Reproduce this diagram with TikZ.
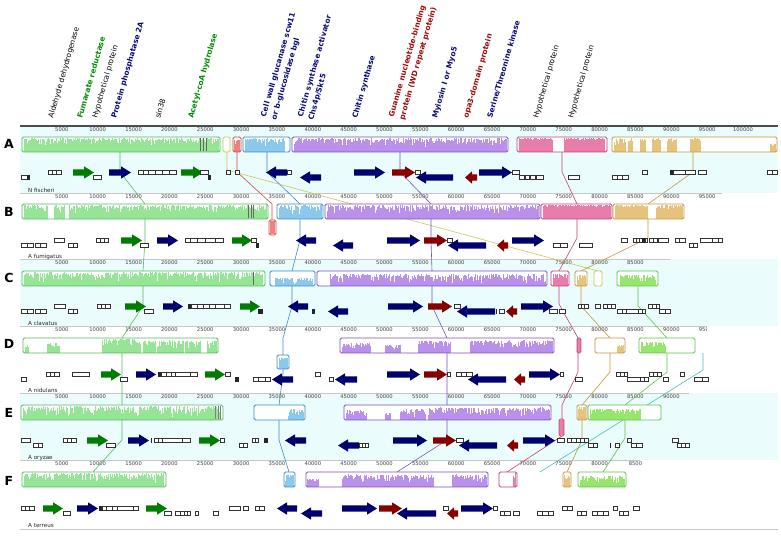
\documentclass[tikz,border=0pt]{standalone}
\usepackage{fontspec}
\setmainfont{DejaVu Sans}
\definecolor{hg}{RGB}{150,228,150}
\definecolor{bg}{RGB}{85,185,95}
\definecolor{hb}{RGB}{140,200,235}
\definecolor{bb}{RGB}{60,140,200}
\definecolor{hp}{RGB}{185,145,235}
\definecolor{bp}{RGB}{125,80,195}
\definecolor{hk}{RGB}{230,125,170}
\definecolor{bk}{RGB}{200,65,115}
\definecolor{ht}{RGB}{230,195,125}
\definecolor{bt}{RGB}{200,150,65}
\definecolor{hr}{RGB}{235,130,130}
\definecolor{br}{RGB}{205,75,75}
\definecolor{bo}{RGB}{200,200,90}
\definecolor{hl}{RGB}{150,230,110}
\definecolor{bl}{RGB}{95,195,75}
\definecolor{tl}{RGB}{70,190,185}
\definecolor{bgcyan}{RGB}{234,252,252}
\definecolor{gA}{RGB}{0,125,0}
\definecolor{nv}{RGB}{0,0,110}
\definecolor{dr}{RGB}{135,0,0}
\definecolor{lgreen}{RGB}{0,140,0}
\definecolor{lnavy}{RGB}{10,10,120}
\definecolor{lred}{RGB}{160,10,10}
\newcommand\hist[6]{%
  \foreach \xx in {#1,...,#2}{%
    \pgfmathsetmacro\hh{(#6-(#6-#5)*rnd*rnd)*13.5}%
    \fill[#4] (\xx,#3+14.6) rectangle (\xx+1.15,#3+14.6-\hh);
  }}
\newcommand\boxw[4]{\fill[white,rounded corners=1.5pt] (#1,#2) rectangle (#3,#4);}
\newcommand\boxf[5]{\draw[#5,line width=0.9pt,rounded corners=1.5pt] (#1,#2) rectangle (#3,#4);}
\newcommand\arR[5]{\fill[#4] (#1,#3-3.2) -- (#2-#5,#3-3.2) -- (#2-#5,#3-6.2) -- (#2,#3) -- (#2-#5,#3+6.2) -- (#2-#5,#3+3.2) -- (#1,#3+3.2) -- cycle;}
\newcommand\arL[5]{\fill[#4] (#2,#3-3.2) -- (#1+#5,#3-3.2) -- (#1+#5,#3-6.2) -- (#1,#3) -- (#1+#5,#3+6.2) -- (#1+#5,#3+3.2) -- (#2,#3+3.2) -- cycle;}
\newcommand\gup[2]{\filldraw[gbx] (#1,\cy-2) rectangle (#2,\cy+2);}
\newcommand\glo[2]{\filldraw[gbx] (#1,\cy+3) rectangle (#2,\cy+7);}
\newcommand\kup[2]{\fill[black!85] (#1,\cy-2.5) rectangle (#2,\cy+2.5);}
\newcommand\klo[2]{\fill[black!85] (#1,\cy+2.5) rectangle (#2,\cy+7.5);}
\newcommand\gaRu[3]{\arR{#1}{#2}{\cy+0.5}{#3}{10}}
\newcommand\gaLu[3]{\arL{#1}{#2}{\cy+0.5}{#3}{10}}
\newcommand\gaLl[3]{\arL{#1}{#2}{\cy+5.5}{#3}{10}}
\begin{document}
\begin{tikzpicture}[x=1pt,y=-1pt,
  gbx/.style={fill=white,draw=black!80,line width=0.45pt},
  hdr/.style={anchor=base west,rotate=74,font=\fontsize{7.4}{8}\selectfont,inner sep=0pt},
  hdrb/.style={anchor=base west,rotate=74,font=\fontsize{7.4}{8}\selectfont\bfseries,inner sep=0pt},
  rl/.style={font=\fontsize{5.2}{6}\selectfont,text=black!75,inner sep=0pt,anchor=north},
  gn/.style={font=\fontsize{5.6}{6}\selectfont,text=black!85,anchor=base west,inner sep=0pt},
  rowl/.style={font=\fontsize{12.5}{13}\selectfont\bfseries,inner sep=0pt},
  lk/.style={line width=0.6pt},
  rul/.style={draw=black!22,line width=0.8pt}]
\pgfmathsetseed{7}
\useasboundingbox (0,0) rectangle (781,535);
\fill[white] (0,0) rectangle (781,535);
% backgrounds
\fill[bgcyan] (20,126) rectangle (778,193);
\fill[bgcyan] (20,259) rectangle (778,326);
\fill[bgcyan] (20,393) rectangle (778,460);
\draw[rul] (20,193)--(722,193);
\draw[rul] (20,259)--(670,259);
\draw[rul] (20,326)--(707,326);
\draw[rul] (20,393)--(689,393);
\draw[rul] (20,460)--(640,460);
\draw[rul] (20,529.5)--(778,529.5);
\draw[black!70,line width=1.4pt] (20,126)--(778,126);
% rulers
\foreach \k in {5,10,...,100} \node[rl] at ({26+7.17*\k},127.5) {\k000};
\foreach \k in {5,10,...,95} \node[rl] at ({26+7.17*\k},194.5) {\k000};
\foreach \k in {5,10,...,85} \node[rl] at ({26+7.17*\k},260.5) {\k000};
\foreach \k in {5,10,...,90} \node[rl] at ({26+7.17*\k},327.5) {\k000};
\begin{scope}\clip (600,320) rectangle (706,340); \node[rl] (dlast) at ({26+7.17*95},327.5) {95000};\end{scope}
\foreach \k in {5,10,...,90} \node[rl] at ({26+7.17*\k},394.5) {\k000};
\foreach \k in {5,10,...,80} \node[rl] at ({26+7.17*\k},461.5) {\k000};
\node[rl] (flast) at ({26+7.17*85},461.5) {8500};
% LCB connecting lines
\draw[lk,bg] (120,152)--(120,172)--(145,204)--(145,240)--(143,271)--(143,306)--(122,338)--(122,374)--(122,405)--(122,440)--(93,472);
\draw[lk,bb] (267,152)--(267,172)--(300,204)--(300,240)--(292,271)--(292,306)--(283,338)--(283,355);
\draw[lk,bb] (283,369)--(283,374)--(279,405)--(279,440)--(289,472);
\draw[lk,br] (237,152)--(237,172)--(272,204)--(272,220);
\draw[lk,bo] (227,152)--(227,170)--(598,271);
\draw[lk,bp] (400,152)--(400,172)--(431,204)--(431,240)--(432,271)--(432,306)--(447,338)--(447,374)--(447,405)--(447,440)--(397,472);
\draw[lk,bk] (562,152)--(562,172)--(577,204)--(577,238)--(559,271)--(559,304)--(578,338)--(578,372)--(562,405)--(562,419);
\draw[lk,bk] (562,436)--(507,472);
\draw[lk,bt] (693,152)--(693,172)--(648,204)--(648,238)--(581,271)--(581,306)--(610,338)--(610,372)--(582,405)--(582,440)--(567,472);
\draw[lk,bl] (638,286)--(638,306)--(667,338)--(667,372)--(625,405)--(625,438)--(603,472);
\draw[lk,tl] (703,353)--(703,370)--(540,472);
% ---- Row A blocks
\boxw{22}{137}{220}{152}\hist{24}{218}{137}{hg}{0.45}{1}
\foreach \q in {200,203,206} \draw[black!60,line width=0.5pt] (\q,138)--(\q,151);
\boxf{22}{137}{220}{152}{bg}
\boxw{223}{137}{230}{152}\boxf{223}{137}{230}{152}{bo}
\boxw{233}{137}{241}{152}\hist{234}{239}{137}{hr}{0.4}{0.9}\boxf{233}{137}{241}{152}{br}
\boxw{243}{137}{290}{152}\hist{245}{284}{137}{hb}{0.3}{1}\boxf{243}{137}{290}{152}{bb}
\boxw{292}{137}{508}{152}\hist{294}{506}{137}{hp}{0.35}{1}\boxf{292}{137}{508}{152}{bp}
\boxw{517}{137}{607}{152}\hist{519}{552}{137}{hk}{0.8}{1}\hist{564}{604}{137}{hk}{0.8}{1}\boxf{517}{137}{607}{152}{bk}
\boxw{612}{137}{777}{152}\hist{614}{625}{137}{ht}{0.5}{1}\hist{628}{632}{137}{ht}{0.5}{1}\hist{640}{645}{137}{ht}{0.6}{1}\hist{652}{660}{137}{ht}{0.7}{1}\hist{667}{676}{137}{ht}{0.6}{1}\hist{690}{700}{137}{ht}{0.7}{1}\hist{770}{775}{137}{ht}{0.3}{0.6}\boxf{612}{137}{777}{152}{bt}
% ---- Row B blocks
\boxw{22}{204}{268}{219}\hist{24}{47}{204}{hg}{0.4}{1}\hist{54}{64}{204}{hg}{0.4}{1}\hist{69}{266}{204}{hg}{0.4}{1}
\foreach \q in {248,251,253} \draw[black!60,line width=0.5pt] (\q,205)--(\q,218);
\boxf{22}{204}{268}{219}{bg}
\boxw{269}{220}{276}{235}\fill[hr] (270,221) rectangle (275,234);\boxf{269}{220}{276}{235}{br}
\boxw{277}{204}{323}{219}\hist{279}{321}{204}{hb}{0.3}{1}\boxf{277}{204}{323}{219}{bb}
\boxw{325}{204}{540}{219}\hist{327}{538}{204}{hp}{0.3}{1}\boxf{325}{204}{540}{219}{bp}
\boxw{541}{204}{612}{219}\hist{543}{610}{204}{hk}{0.85}{1}\boxf{541}{204}{612}{219}{bk}
\boxw{613}{204}{684}{219}\hist{615}{647}{204}{ht}{0.8}{1}\hist{656}{682}{204}{ht}{0.7}{1}\boxf{613}{204}{684}{219}{bt}
% ---- Row C blocks
\boxw{22}{271}{265}{286}\hist{24}{262}{271}{hg}{0.2}{1}
\draw[black!60,line width=0.5pt] (253,272)--(253,285);
\boxf{22}{271}{265}{286}{bg}
\boxw{270}{271}{315}{286}\hist{275}{312}{271}{hb}{0.05}{0.6}\boxf{270}{271}{315}{286}{bb}
\boxw{317}{271}{547}{286}\hist{330}{545}{271}{hp}{0.1}{0.85}\boxf{317}{271}{547}{286}{bp}
\boxw{551}{271}{569}{286}\hist{553}{567}{271}{hk}{0.3}{0.9}\boxf{551}{271}{569}{286}{bk}
\boxw{575}{271}{587}{286}\hist{577}{585}{271}{ht}{0.3}{0.8}\boxf{575}{271}{587}{286}{bt}
\boxw{594}{271}{602}{286}\boxf{594}{271}{602}{286}{bo}
\boxw{617}{271}{658}{286}\hist{620}{655}{271}{hl}{0.2}{0.8}\boxf{617}{271}{658}{286}{bl}
% ---- Row D blocks
\boxw{23}{338}{218}{353}\hist{25}{28}{338}{hg}{0.2}{0.6}\hist{47}{59}{338}{hg}{0.3}{0.7}\hist{102}{140}{338}{hg}{0.2}{1}\hist{143}{155}{338}{hg}{0.3}{0.9}\hist{157}{183}{338}{hg}{0.2}{0.9}\hist{185}{200}{338}{hg}{0.3}{0.9}\hist{207}{216}{338}{hg}{0.2}{0.9}\boxf{23}{338}{218}{353}{bg}
\boxw{277}{355}{289}{369}\hist{279}{287}{354.5}{hb}{0.3}{0.9}\boxf{277}{355}{289}{369}{bb}
\boxw{340}{338}{554}{353}\hist{342}{370}{338}{hp}{0.15}{0.7}\hist{385}{400}{338}{hp}{0.15}{0.6}\hist{418}{450}{338}{hp}{0.2}{0.9}\hist{470}{552}{338}{hp}{0.2}{0.9}\boxf{340}{338}{554}{353}{bp}
\fill[hk] (577,339) rectangle (581,352);\boxf{577}{338}{581}{353}{bk}
\boxw{595}{338}{625}{353}\hist{617}{623}{338}{ht}{0.3}{0.6}\boxf{595}{338}{625}{353}{bt}
\boxw{639}{338}{695}{353}\hist{641}{665}{338}{hl}{0.2}{0.8}\boxf{639}{338}{695}{353}{bl}
% ---- Row E blocks
\boxw{21}{405}{223}{420}\hist{23}{220}{405}{hg}{0.15}{1}
\foreach \q in {215,218,220} \draw[black!50,line width=0.5pt] (\q,406)--(\q,419);
\boxf{21}{405}{223}{420}{bg}
\boxw{254}{405}{305}{420}\hist{288}{303}{405}{hb}{0.2}{0.8}\boxf{254}{405}{305}{420}{bb}
\boxw{344}{405}{551}{420}\hist{346}{366}{405}{hp}{0.15}{0.7}\hist{385}{390}{405}{hp}{0.2}{0.5}\hist{400}{425}{405}{hp}{0.15}{0.8}\hist{428}{549}{405}{hp}{0.2}{0.9}\boxf{344}{405}{551}{420}{bp}
\fill[hk] (559,420) rectangle (564,435);\boxf{559}{419}{564}{436}{bk}
\boxw{577}{405}{587}{420}\hist{578}{585}{405}{ht}{0.5}{1}\boxf{577}{405}{587}{420}{bt}
\boxw{588}{405}{661}{420}\hist{590}{640}{405}{hl}{0.2}{0.8}\boxf{588}{405}{661}{420}{bl}
% ---- Row F blocks
\boxw{22}{472}{166}{487}\hist{24}{163}{472}{hg}{0.2}{1}\boxf{22}{472}{166}{487}{bg}
\boxw{284}{472}{295}{487}\hist{285}{293}{472}{hb}{0.3}{0.9}\boxf{284}{472}{295}{487}{bb}
\boxw{306}{472}{488}{487}\hist{307}{318}{472}{hp}{0.15}{0.6}\hist{342}{433}{472}{hp}{0.2}{0.9}\hist{452}{486}{472}{hp}{0.2}{0.9}\boxf{306}{472}{488}{487}{bp}
\boxw{499}{472}{517}{487}\hist{513}{515}{472}{hk}{0.4}{1}\boxf{499}{472}{517}{487}{bk}
\boxw{563}{472}{571}{487}\hist{564}{569}{472}{ht}{0.4}{0.9}\boxf{563}{472}{571}{487}{bt}
\boxw{578}{472}{626}{487}\hist{580}{624}{472}{hl}{0.2}{0.8}\boxf{578}{472}{626}{487}{bl}
% ---- Genes row A
\def\cy{172}
\glo{21}{27}\klo{27}{30}
\gup{48}{52}\gup{52}{56}\gup{56}{61}
\gaRu{73}{94}{gA}\glo{93}{101}
\gaRu{109}{131}{nv}
\gup{138}{143}\gup{143}{148}\gup{148}{155}\gup{155}{162}\gup{162}{169}\gup{169}{176}
\gaRu{181}{203}{gA}\gup{200}{208}\klo{208}{211}
\gup{226}{230}\gup{235}{239}
\gaLu{266}{287}{nv}\gup{287}{291}
\gaLl{300}{321}{nv}
\gaRu{354}{385}{nv}
\gaRu{392}{415}{dr}\gup{415}{420}
\gaLl{416}{453}{nv}
\arL{465}{477}{\cy+5.5}{dr}{7}
\gaRu{479}{512}{nv}\gup{512}{519}
\glo{519}{524}\glo{525}{529}\glo{530}{535}\glo{536}{543}
\glo{568}{579}
\glo{612}{617}\glo{617}{622}\glo{622}{628}
\gup{642}{647}
\kup{670}{673}\gup{673}{685}\gup{685}{695}\gup{698}{706}
\gup{767}{772}\gup{772}{777}
% ---- Genes row B
\def\cy{240}
\glo{21}{27}\glo{27}{33}\glo{35}{40}\glo{40}{46}
\gup{54}{64}
\glo{68}{73}\glo{73}{77}
\gup{96}{100}\gup{100}{104}\gup{104}{108}
\gaRu{121}{142}{gA}\glo{140}{148}
\gaRu{157}{178}{nv}
\gup{185}{190}\gup{190}{197}\gup{197}{205}\gup{205}{215}\gup{215}{223}
\gaRu{232}{252}{gA}\gup{251}{256}\klo{256}{259}
\gaLu{296}{316}{nv}
\gaLl{333}{353}{nv}
\gaRu{387}{420}{nv}
\gaRu{424}{447}{dr}\gup{447}{452}
\gaLl{448}{486}{nv}
\arL{497}{508}{\cy+5.5}{dr}{7}
\gaRu{512}{544}{nv}
\glo{553}{560}\glo{560}{567}\glo{579}{592}
\gup{621}{627}\gup{633}{636}\gup{636}{639}\gup{639}{642}\kup{642}{645}\gup{645}{647}\gup{649}{653}\gup{653}{657}\gup{658}{668}\gup{675}{679}\gup{679}{685}
\glo{689}{693}\glo{693}{697}
\gup{700}{712}\gup{712}{718}\gup{718}{722}
% ---- Genes row C
\def\cy{306}
\glo{21}{27}\glo{27}{33}\glo{35}{40}\glo{40}{46}
\gup{54}{65}
\glo{68}{73}\glo{73}{77}
\gup{97}{101}\gup{101}{105}\gup{105}{110}
\gaRu{125}{146}{gA}\glo{144}{153}
\gaRu{163}{183}{nv}
\kup{188}{191}\gup{191}{197}\gup{197}{203}\gup{203}{209}\gup{209}{215}\gup{215}{224}\gup{224}{230}
\gaRu{240}{260}{gA}\klo{258}{263}
\gaLu{288}{308}{nv}\klo{312}{315}
\gaLl{328}{348}{nv}
\gaRu{388}{423}{nv}
\gaRu{428}{452}{dr}\gup{454}{460}
\gaLl{457}{495}{nv}
\klo{496}{497}\glo{499}{504}
\arL{506}{517}{\cy+5.5}{dr}{7}
\gaRu{521}{553}{nv}
\glo{549}{557}\glo{559}{565}
\gup{578}{581}\gup{581}{584}\gup{584}{588}
\gup{595}{600}\gup{603}{607}\gup{607}{611}\gup{611}{615}
\glo{617}{622}\glo{622}{626}\glo{626}{638}\glo{638}{642}\glo{642}{645}
\gup{648}{652}\gup{652}{656}\gup{656}{659}
\glo{659}{665}\glo{665}{670}
% ---- Genes row D
\def\cy{374}
\glo{21}{26}
\gup{46}{50}\gup{50}{54}\gup{54}{59}
\gup{72}{89}
\gaRu{101}{121}{gA}\glo{120}{127}
\gaRu{136}{156}{nv}
\kup{158}{161}\gup{161}{166}\gup{166}{171}\gup{171}{175}\gup{175}{190}\gup{190}{197}
\gaRu{205}{225}{gA}\gup{225}{230}
\klo{235}{239}
\glo{253}{258}\glo{258}{265}\glo{265}{270}
\gaLl{272}{293}{nv}
\gup{315}{320}
\glo{329}{333}
\gaLl{335}{357}{nv}
\gaRu{387}{420}{nv}
\gaRu{424}{447}{dr}\gup{447}{450}
\gup{456}{461}\gup{461}{466}\gup{466}{472}
\gaLl{468}{506}{nv}
\arL{514}{525}{\cy+5.5}{dr}{7}
\gaRu{529}{560}{nv}\gup{560}{563}
\glo{575}{582}
\gup{616}{620}\gup{620}{624}\gup{624}{627}
\glo{627}{640}\glo{640}{644}\glo{644}{648}
\gup{649}{653}\gup{653}{657}\gup{657}{661}
\glo{663}{668}
\gup{680}{684}
\glo{694}{702}\glo{702}{708}
% ---- Genes row E
\def\cy{440}
\gup{21}{30}
\glo{33}{38}\glo{38}{42}
\gup{63}{67}\gup{67}{71}\gup{71}{76}
\gaRu{87}{108}{gA}\glo{106}{115}
\gaRu{128}{149}{nv}
\kup{151}{152}\gup{154}{158}\gup{158}{162}\gup{162}{182}\gup{182}{190}
\gaRu{199}{220}{gA}\gup{220}{224}
\glo{239}{243}\glo{243}{247}
\gup{252}{255}\gup{255}{258}\kup{264}{268}
\gaLu{285}{306}{nv}
\gaLl{338}{359}{nv}\glo{359}{362}\glo{362}{365}\glo{365}{368}
\gaRu{393}{427}{nv}
\gaRu{433}{456}{dr}\gup{456}{463}
\gaLl{459}{497}{nv}
\arL{507}{518}{\cy+5.5}{dr}{7}
\gaRu{523}{555}{nv}\gup{557}{564}
\gup{567}{571}\gup{571}{576}\gup{576}{580}\gup{580}{584}\gup{584}{588}
\glo{588}{593}\glo{593}{597}
\klo{610}{611}\glo{615}{619}
\gup{627}{631}\glo{631}{636}\glo{636}{642}
\gup{672}{678}\glo{677}{681}\glo{681}{685}\glo{685}{689}
% ---- Genes row F
\def\cy{508}
\gup{21}{25}\gup{25}{29}\gup{29}{34}
\gaRu{43}{63}{gA}\glo{63}{70}
\gaRu{77}{98}{nv}
\kup{99}{102}\gup{102}{106}\gup{106}{112}\gup{112}{117}\gup{117}{133}\gup{133}{138}
\gaRu{146}{167}{gA}\glo{164}{171}
\glo{175}{180}\glo{180}{184}\glo{184}{187}\glo{187}{190}\glo{195}{198}
\glo{213}{218}
\gup{229}{240}\gup{243}{248}\gup{255}{259}\gup{259}{264}
\gaLu{277}{297}{nv}
\gaLl{301}{322}{nv}
\gaRu{342}{377}{nv}
\gaRu{379}{402}{dr}
\gaLl{397}{436}{nv}
\gup{443}{448}\arL{447}{458}{\cy+5.5}{dr}{7}
\gaRu{461}{493}{nv}\gup{493}{497}
\glo{500}{504}\glo{504}{510}\glo{513}{519}
\glo{537}{542}\glo{542}{548}\glo{548}{553}
\gup{562}{567}\gup{567}{572}
\glo{577}{581}\glo{581}{586}\glo{592}{597}\glo{597}{603}\glo{603}{608}
\gup{613}{617}\glo{619}{623}\glo{623}{628}
\gup{633}{639}
% ---- row letters and genome names
\node[rowl] (rA) at (9,144) {A};
\node[rowl] (rB) at (9,211.5) {B};
\node[rowl] (rC) at (9,277.5) {C};
\node[rowl] (rD) at (9,344) {D};
\node[rowl] (rE) at (9,412.5) {E};
\node[rowl] (rF) at (9,480.5) {F};
\node[gn] (nA) at (28,192) {N fischeri};
\node[gn] (nB) at (28,258.5) {A fumigatus};
\node[gn] (nC) at (28,325.5) {A clavatus};
\node[gn] (nD) at (28,392) {A nidulans};
\node[gn] (nE) at (28,459) {A oryzae};
\node[gn] (nF) at (28,527.5) {A terreus};
% ---- header labels
\node[hdr] (l1) at (53,119) {Aldehyde dehydrogenase};
\node[hdrb,text=lgreen] (l2) at (82,119) {Fumarate reductase};
\node[hdr] (l3) at (97,119) {Hypothetical protein};
\node[hdrb,text=lnavy] (l4) at (116,119) {Protein phosphatase 2A};
\node[hdr] (l5) at (160,119) {sin38};
\node[hdrb,text=lgreen] (l6) at (193,119) {Acetyl-coA hydrolase};
\node[hdrb,text=lnavy] (l7a) at (265.5,117.5) {Cell wall glucanase scw11};
\node[hdrb,text=lnavy] (l7b) at (276,120.5) {or b-glucosidase bgl};
\node[hdrb,text=lnavy] (l8a) at (302.5,117.5) {Chitin synthase activator};
\node[hdrb,text=lnavy] (l8b) at (313,120.5) {Chs4p/Skt5};
\node[hdrb,text=lnavy] (l9) at (357,119) {Chitin synthase};
\node[hdrb,text=lred] (l10a) at (393.5,117.5) {Guanine nucleotide-binding};
\node[hdrb,text=lred] (l10b) at (404,120.5) {protein (WD repeat protein)};
\node[hdrb,text=lnavy] (l11) at (437,119) {Myiosin I or Myo5};
\node[hdrb,text=lred] (l12) at (468,119) {opa3-domain protein};
\node[hdrb,text=lnavy] (l13) at (492,119) {Serine/Threonine kinase};
\node[hdr] (l14) at (538,119) {Hypothetical protein};
\node[hdr] (l15) at (573,119) {Hypothetical protein};
\end{tikzpicture}
\end{document}
